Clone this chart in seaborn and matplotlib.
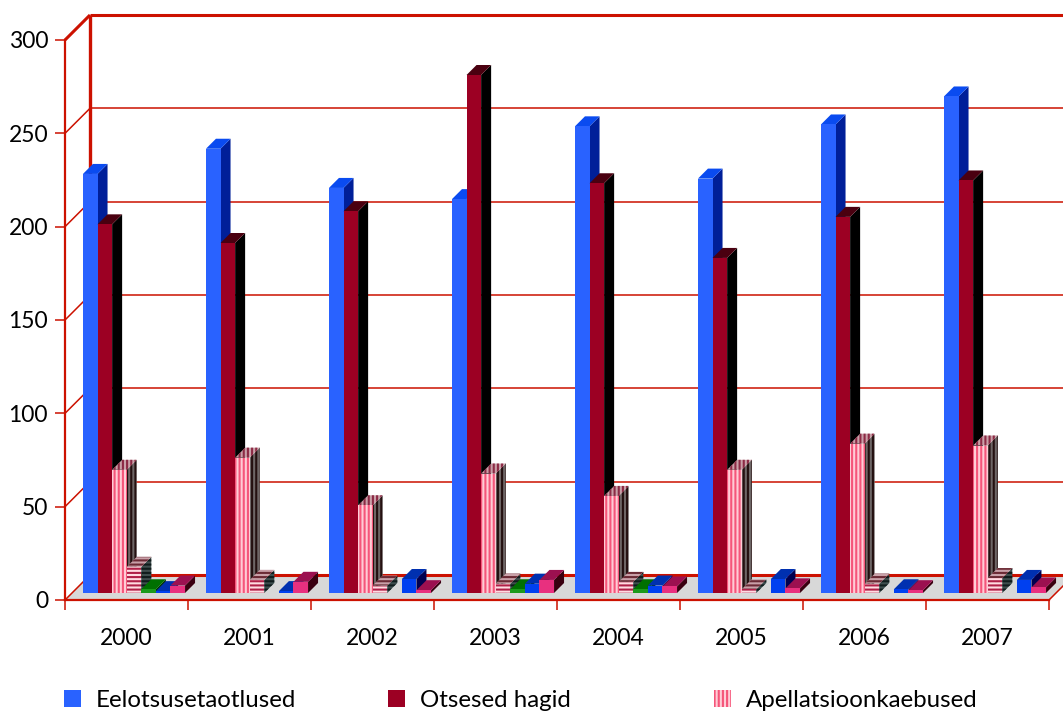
import matplotlib
matplotlib.use("Agg")
import matplotlib.pyplot as plt
from matplotlib.patches import Patch, Polygon
from matplotlib.transforms import Affine2D
import pandas as pd
import seaborn as sns

years = ["2000", "2001", "2002", "2003", "2004", "2005", "2006", "2007"]
eelotsused = [224.5, 238, 217, 211, 250, 222, 251, 266]
otsesed = [197.5, 187.5, 204.5, 277.5, 219.5, 179.5, 201.5, 221]
apellatsioonid = [66, 72.5, 47, 64, 52, 66, 80, 79]
ajutised = [14, 7, 4, 5, 6, 2, 5, 8]
arvamused = [2, 0, 0, 2, 2, 0, 0, 0]
erimenetlused = [1, 1, 7.5, 5, 4, 7.5, 2, 7]
muud = [4, 6, 1.5, 7, 3.5, 2.5, 1.5, 3]

series_names = ["Eelotsusetaotlused", "Otsesed hagid", "Apellatsioonkaebused",
                "Ajutised meetmed", "Arvamused", "Erimenetlused", "Muud"]
series_values = [eelotsused, otsesed, apellatsioonid, ajutised, arvamused, erimenetlused, muud]
y_ticks = [0, 50, 100, 150, 200, 250, 300]

# front, side and top face colours with optional stripe colours
styles = [
    dict(front="#2962FF", side="#001F99", top="#0A4BF0"),
    dict(front="#9C0023", side="#000000", top="#4A0010"),
    dict(front="#FFCCD6", side="#6E6666", top="#C9A0A8", hatch="||||",
         front_h="#F5557A", side_h="#241010", top_h="#8C2A45"),
    dict(front="#FFDCE2", side="#3E4E4E", top="#C9A0A8", hatch="----",
         front_h="#B02048", side_h="#101C1C", top_h="#6B2A35"),
    dict(front="#1B9A1B", side="#003300", top="#007000"),
    dict(front="#0040F0", side="#000050", top="#0030B0"),
    dict(front="#E8307F", side="#3A0010", top="#9C1050"),
]

RED = "#CC1100"
PX_X = 1 / 123          # category units per pixel
PX_Y = 300 / 560        # value units per pixel
WALL_X, WALL_Y = 25 * PX_X, 25 * PX_Y      # depth of the floor
BAR_X, BAR_Y = 7.5 * PX_X, 7 * PX_Y        # where bars stand on the floor
DEPTH_X, DEPTH_Y = 10 * PX_X, 10 * PX_Y    # depth of each bar

plt.rcParams["font.family"] = ["Lato", "DejaVu Sans"]
plt.rcParams["hatch.linewidth"] = 1.5

table = pd.DataFrame(
    [(y, name, v) for name, vals in zip(series_names, series_values)
     for y, v in zip(years, vals)],
    columns=["year", "series", "value"],
)

W, H = 1063, 711
fig = plt.figure(figsize=(W / 100, H / 100), dpi=100, facecolor="white")
ax = fig.add_axes([65 / W, (H - 600) / H, 984 / W, 560 / H])

sns.barplot(data=table, x="year", y="value", hue="series", order=years,
            hue_order=series_names, palette=[s["front"] for s in styles],
            width=0.83, gap=0, saturation=1, legend=False, ax=ax)

ax.set_xlim(-0.5, 7.5)
ax.set_ylim(0, 300)
x0, x1, top = -0.5, 7.5, 300

# floor and walls behind the bars
ax.add_patch(Polygon([(x0, 0), (x1, 0), (x1 + WALL_X, WALL_Y), (x0 + WALL_X, WALL_Y)],
                     closed=True, fc="#D8D8D8", ec="none", clip_on=False, zorder=1))


def wall_line(xs, ys, lw):
    ax.plot(xs, ys, color=RED, lw=lw, clip_on=False, zorder=2, solid_capstyle="butt")


for v in y_ticks:
    heavy = v in (0, top)
    wall_line([x0 + WALL_X, x1 + WALL_X], [v + WALL_Y] * 2, 2.2 if heavy else 1.1)
    wall_line([x0, x0 + WALL_X], [v, v + WALL_Y], 2.2 if v == top else 1.1)
wall_line([x0 + WALL_X, x0 + WALL_X], [WALL_Y, top + WALL_Y], 2.4)
wall_line([x1, x1 + WALL_X], [0, WALL_Y], 1.1)

# lift the bars onto the floor and add their side and top faces
stand = Affine2D().translate(BAR_X, BAR_Y) + ax.transData
for i, (bars, st) in enumerate(zip(ax.containers, styles)):
    hatch = st.get("hatch")
    for bar in bars:
        bar.set_transform(stand)
        bar.set_clip_on(False)
        bar.set_linewidth(0)
        bar.set_zorder(10 + i + 0.5)
        if hatch:
            bar.set_hatch(hatch)
            bar.set_edgecolor(st["front_h"])
        h = bar.get_height()
        if h == 0:
            bar.set_visible(False)
            continue
        left, right = bar.get_x(), bar.get_x() + bar.get_width()
        faces = [
            ([(right, 0), (right + DEPTH_X, DEPTH_Y), (right + DEPTH_X, h + DEPTH_Y), (right, h)],
             st["side"], st.get("side_h")),
            ([(left, h), (right, h), (right + DEPTH_X, h + DEPTH_Y), (left + DEPTH_X, h + DEPTH_Y)],
             st["top"], st.get("top_h")),
        ]
        for pts, fc, hc in faces:
            ax.add_patch(Polygon(pts, closed=True, fc=fc, ec=hc or "none", lw=0,
                                 hatch=hatch, transform=stand, clip_on=False, zorder=10 + i))

# axes
sns.despine(ax=ax, top=True, right=True)
for side in ("left", "bottom"):
    ax.spines[side].set_color(RED)
ax.spines["left"].set_linewidth(1.6)
ax.spines["bottom"].set_linewidth(1.6)
ax.set_xlabel("")
ax.set_ylabel("")
ax.set_yticks(y_ticks)
ax.set_xticks([k - 0.5 for k in range(len(years) + 1)], minor=True)
ax.tick_params(axis="x", which="major", length=0, pad=20, labelsize=16.5, labelcolor="black")
ax.tick_params(axis="x", which="minor", length=7.2, width=1.1, color=RED)
ax.tick_params(axis="y", length=7.2, width=1.1, color=RED, pad=5, labelsize=16.5)

# the legend row
entries = [(0, 64), (1, 388), (2, 714)]
for idx, px in entries:
    st = styles[idx]
    handle = Patch(facecolor=st["front"], edgecolor=st.get("front_h", st["front"]),
                   linewidth=0, hatch=st.get("hatch"))
    leg = fig.legend(handles=[handle], labels=[series_names[idx]], loc="lower left",
                     bbox_to_anchor=(px / W, 0.0), frameon=False, fontsize=17.3,
                     handlelength=0.71, handleheight=0.71, handletextpad=0.62,
                     borderpad=0, borderaxespad=0)

fig.savefig("out.png", dpi=100)
